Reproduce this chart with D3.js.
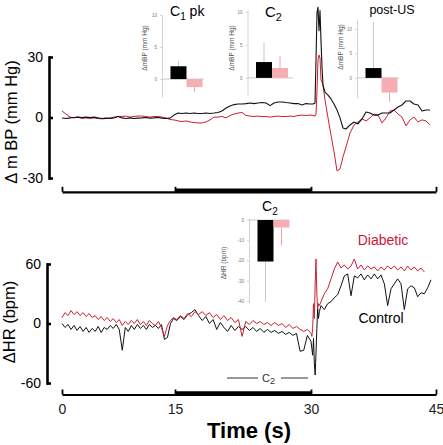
<!DOCTYPE html>
<html><head><meta charset="utf-8">
<script src="https://cdn.jsdelivr.net/npm/d3@7"></script>
<style>body{margin:0;background:#fff}svg{display:block}</style>
</head><body><svg id="c" width="443" height="445"></svg>
<script>
// ---------------- DATA ----------------
const xTicks = [0, 15, 30, 45];
const bpTicks = [30, 0, -30];
const hrTicks = [60, 0, -60];

// Blood pressure traces (time in s, change in mean BP mm Hg)
const bpTime = [0,0.53,1.06,1.59,2.12,2.65,3.19,3.72,4.25,4.78,5.31,5.84,6.37,6.90,7.43,7.96,8.50,9.03,9.56,10.09,10.62,11.15,11.68,12.21,12.74,13.27,13.81,14.34,14.87,
15.33,15.77,16.21,16.65,17.10,17.54,17.98,18.42,18.86,19.30,19.74,20.18,20.63,21.07,21.51,21.95,22.39,22.83,23.27,23.71,24.15,24.60,25.04,25.48,25.92,26.36,26.80,27.24,27.68,28.12,28.57,29.01,29.45,29.89,
30.24,30.48,30.60,30.72,30.84,30.96,31.08,31.20,31.32,31.44,31.68,32.04,32.40,32.76,33.12,33.48,33.84,34.20,34.68,35.16,35.64,36.12,36.60,37.08,37.56,38.04,38.52,39.00,39.48,39.96,40.44,40.92,41.40,41.88,42.36,42.84,43.32,43.80,44.28];
const bpControl = [-0.25,-0.5,-0.2,0,0.2,0,0.2,0,0.2,-0.2,-0.5,-0.3,-0.5,-0.2,0.5,-0.2,-0.5,-0.2,-0.5,-0.3,-0.2,0,-0.3,-0.2,0,-0.3,-0.5,-0.3,1.2,
2.2,2.0,2.2,2.0,2.2,2.0,2.0,2.2,2.0,2.2,2.5,3.2,4.7,5.7,6.4,6.7,6.7,6.9,7.2,6.9,7.2,7.4,7.2,5.9,7.2,7.7,7.7,7.4,7.2,6.9,6.9,6.2,6.9,6.7,
6.7,7.2,28.5,52,54.7,43,53,38,25,16,12.6,11.1,9.2,6.7,3.7,-0.2,-5.2,-5.7,-3.7,-2.2,-3.2,-0.7,2.7,2.2,1.2,1.2,2.2,2.2,2.2,3.7,5.2,6.2,8.2,8.2,6.7,6.2,3.2,3.7,3.7];
const bpDiabetic = [3.2,1.7,0.2,-0.2,0.2,-0.5,-0.2,-0.5,-0.2,-0.5,-0.7,-0.5,-0.2,0.2,0.5,0.5,0.7,0.2,0.5,0.7,0.7,0.5,0.2,0.5,0.5,0.2,-0.2,-1.0,-1.2,
-1.7,-2.0,-1.7,-2.2,-2.5,-2.7,-2.7,-2.2,-1.2,0.2,0.2,0.5,-0.2,1.0,1.7,2.2,2.5,1.0,0.7,0.5,0.7,0.5,0.5,0.2,0.5,0.7,0.5,0.5,0.7,0.5,1.0,1.2,1.0,1.2,
1.0,0.7,1.7,13.6,28.5,31,29.5,18.6,17.6,16,8.7,-0.2,-8.7,-17,-26.5,-25.5,-19.5,-14.6,-7.7,-3.7,-2.2,-0.7,-1.7,-0.2,1.7,1.2,-2.7,-0.2,3.2,3.7,1.7,0.2,-4.2,-1.2,0.2,-2.2,-1.2,-1.7,-3.7];

// Heart rate traces (time in s, change in HR bpm)
const hrTime = [0,0.4,0.8,1.2,1.6,2.0,2.4,2.8,3.2,3.6,4.0,4.4,4.8,5.2,5.6,6.0,6.4,6.8,7.2,7.6,8.0,8.4,8.8,9.2,9.6,10.0,10.4,10.8,11.2,11.6,12.0,12.4,12.8,13.2,13.6,14.0,14.4,14.8,
15.2,15.6,16.0,16.4,16.8,17.2,17.6,18.0,18.4,18.8,19.2,19.6,20.0,20.4,20.8,21.2,21.6,22.0,22.4,22.8,23.2,23.6,24.0,24.4,24.8,25.2,25.6,26.0,26.4,26.8,27.2,27.6,28.0,28.4,28.8,29.2,29.6,
30.0,30.1,30.2,30.3,30.4,30.5,30.6,30.7,30.8,30.9,31.0,31.2,31.6,32.0,32.4,32.8,33.2,33.6,34.0,34.4,34.8,35.2,35.6,36.0,36.4,36.8,37.2,37.6,38.0,38.4,38.8,39.2,39.6,40.0,40.4,40.8,41.2,41.6,42.0,42.4,42.8,43.2,43.6,44.0,44.4];
const hrControl = [0,-4,-1,-6,-2,-7,-3,-8,-4,-9,-5,-8,-3,-9,-4,-6,-2,-5,-1,-6,-27,-4,-8,-2,-6,-1,-5,-2,-6,-1,-4,-2,-5,-1,-16,-14,0,5,
3,7,4,9,11,14,8,3,7,0,4,-6,1,-4,-8,-2,-7,-3,-6,-3,-7,-4,-8,-5,-9,-6,-9,-7,-10,-8,-11,-9,-12,-10,-28,-27,-12,
-18,-25,-32,-15,-40,-52,-30,-5,15,5,12,18,14,20,22,26,29,38,48,50,28,48,46,50,44,49,45,50,45,49,40,18,35,40,45,40,14,35,38,36,27,31,30,36,44];
const hrDiabetic = [6,11,8,13,9,12,8,11,7,10,6,8,4,7,3,6,2,5,1,4,-2,2,-1,3,0,4,-1,2,-2,3,0,-2,2,-4,-13,-2,3,6,
4,8,5,10,7,12,9,12,8,11,6,9,4,8,3,6,1,4,-13,2,-1,3,0,2,-1,1,-2,1,-2,0,-4,-1,-5,-3,-6,-8,-6,
-10,-13,-5,20,5,40,65,30,15,20,18,22,30,35,45,55,62,56,59,55,58,65,55,59,54,58,55,57,53,57,54,58,55,58,54,57,53,58,54,57,53,56,52,null,null];

// Inset bar charts (mean and error-bar tip), groups
const insetGroups = ["Control", "Diabetic"];
const c1pkMean = [2.0, -1.25], c1pkErr = [2.8, -2.0];
const c2BpMean = [2.4, 1.5],  c2BpErr = [5.4, 3.3];
const postUsMean = [2.0, -3.0], postUsErr = [11.4, -4.9];
const c2HrMean = [-20.5, -3.7], c2HrErr = [-40.5, -12.5];
const insetBpTicks = [0, 5, 10];
const insetHrTicks = [0, -10, -20, -30, -40];

// ---------------- DRAW ----------------
const FONT = '"Liberation Sans", Arial, Helvetica, sans-serif';
const RED = "#cc1f33";
const svg = d3.select("#c").attr("font-family", FONT);

const x = d3.scaleLinear().domain(xTicks).range([62, 175, 311, 436]);
const yBP = d3.scaleLinear().domain([-30, 30]).range([178, 57]);
const yHR = d3.scaleLinear().domain([-60, 60]).range([383, 264]);

function yAxis(scale, ticks, xpos) {
  const g = svg.append("g").attr("transform", `translate(${xpos},0)`)
    .call(d3.axisLeft(scale).tickValues(ticks).tickSize(-4).tickSizeOuter(0).tickPadding(6).tickFormat(d => String(d)));
  g.attr("font-family", FONT).attr("font-size", 14);
  g.select(".domain").attr("stroke", "#000").attr("stroke-width", 2.6).attr("stroke-linecap", "square");
  g.selectAll(".tick line").attr("stroke", "#000").attr("stroke-width", 2.6);
  g.selectAll(".tick text").attr("fill", "#000");
}
function xAxis(ypos, withLabels) {
  const g = svg.append("g").attr("transform", `translate(0,${ypos})`)
    .call(d3.axisBottom(x).tickValues(xTicks).tickSize(-5).tickSizeOuter(0).tickPadding(10)
      .tickFormat(withLabels ? (d => String(d)) : () => ""));
  g.attr("font-family", FONT).attr("font-size", 14);
  g.select(".domain").attr("stroke", "#000").attr("stroke-width", 2.2);
  g.selectAll(".tick line").attr("stroke", "#000").attr("stroke-width", 1.8);
  g.selectAll(".tick text").attr("fill", "#222");
  g.append("line").attr("x1", x(15)).attr("x2", x(30)).attr("y1", -1).attr("y2", -1)
    .attr("stroke", "#000").attr("stroke-width", 4.4);
}

yAxis(yBP, bpTicks, 49);
yAxis(yHR, hrTicks, 47);
xAxis(191.8, false);
xAxis(394.5, true);

// axis titles
svg.append("text").attr("transform", "translate(17,122) rotate(-90)").attr("text-anchor", "middle")
  .attr("font-size", 16.5).text("Δ  m BP (mm Hg)");
svg.append("text").attr("transform", "translate(15,322) rotate(-90)").attr("text-anchor", "middle")
  .attr("font-size", 16.5).text("ΔHR (bpm)");
svg.append("text").attr("x", 249).attr("y", 438).attr("text-anchor", "middle")
  .attr("font-size", 22).attr("font-weight", "bold").text("Time (s)");

// traces
function trace(times, vals, yScale, color, w) {
  const data = times.map((t, i) => ({ t, v: vals[i] }));
  const line = d3.line().defined(d => d.v != null).x(d => x(d.t)).y(d => yScale(d.v));
  svg.append("path").datum(data).attr("d", line).attr("fill", "none")
    .attr("stroke", color).attr("stroke-width", w).attr("stroke-linejoin", "round");
}
trace(bpTime, bpDiabetic, yBP, RED, 1);
trace(bpTime, bpControl, yBP, "#111", 1.1);
trace(hrTime, hrControl, yHR, "#111", 1);
trace(hrTime, hrDiabetic, yHR, RED, 1);

// legend text
svg.append("text").attr("x", 383).attr("y", 245).attr("text-anchor", "middle").attr("font-size", 14)
  .attr("fill", "#d0143c").text("Diabetic");
svg.append("text").attr("x", 381).attr("y", 323).attr("text-anchor", "middle").attr("font-size", 14)
  .attr("fill", "#000").text("Control");

// C2 bracket in HR panel
svg.append("line").attr("x1", 227).attr("x2", 258).attr("y1", 378).attr("y2", 378).attr("stroke", "#333").attr("stroke-width", 1);
svg.append("line").attr("x1", 281).attr("x2", 308).attr("y1", 378).attr("y2", 378).attr("stroke", "#333").attr("stroke-width", 1);
const cb = svg.append("text").attr("x", 262).attr("y", 382).attr("font-size", 11).attr("fill", "#333");
cb.append("tspan").text("C");
cb.append("tspan").attr("font-size", 9).attr("dy", 2).text("2");

// insets
function title(xp, yp, main, sub, rest, size) {
  const t = svg.append("text").attr("x", xp).attr("y", yp).attr("font-size", size).attr("fill", "#000");
  t.append("tspan").text(main);
  if (sub) t.append("tspan").attr("font-size", size * 0.72).attr("dy", 4).text(sub);
  if (rest) t.append("tspan").attr("dy", -4).text(rest);
}
function inset(o) {
  const ys = d3.scaleLinear().domain(o.dom).range(o.rng);
  const xb = d3.scaleBand().domain(insetGroups).range([o.axisX + 8.5, o.axisX + 8.5 + 32]).paddingInner(0);
  const g = svg.append("g").attr("transform", `translate(${o.axisX},0)`)
    .call(d3.axisLeft(ys).tickValues(o.ticks).tickSize(2).tickSizeOuter(0).tickPadding(3).tickFormat(d => String(d)));
  g.attr("font-family", FONT).attr("font-size", 4.5);
  g.select(".domain").attr("stroke", "#cfcfcf").attr("stroke-width", 0.9);
  g.selectAll(".tick line").attr("stroke", "#bbb").attr("stroke-width", 0.6);
  g.selectAll(".tick text").attr("fill", "#777");
  svg.append("line").attr("x1", o.axisX).attr("x2", o.zeroEnd).attr("y1", ys(0)).attr("y2", ys(0))
    .attr("stroke", "#c4c4c4").attr("stroke-width", 0.9);
  const cols = ["#000", "#f7adb4"], ecols = ["#c9c9c9", "#f4a3ab"];
  insetGroups.forEach((gname, i) => {
    const cx = xb(gname) + xb.bandwidth() / 2;
    svg.append("line").attr("x1", cx).attr("x2", cx).attr("y1", ys(o.mean[i])).attr("y2", ys(o.err[i]))
      .attr("stroke", ecols[i]).attr("stroke-width", 1);
    svg.append("rect").attr("x", xb(gname)).attr("width", xb.bandwidth())
      .attr("y", Math.min(ys(0), ys(o.mean[i]))).attr("height", Math.abs(ys(o.mean[i]) - ys(0)))
      .attr("fill", cols[i]);
  });
  svg.append("text").attr("transform", `translate(${o.labelX},${o.labelY}) rotate(-90)`)
    .attr("text-anchor", "middle").attr("font-size", 6.5).attr("fill", "#555").text(o.label);
}

inset({ axisX: 162, dom: [-2.8, 10], rng: [97, 15], ticks: insetBpTicks, mean: c1pkMean, err: c1pkErr,
  zeroEnd: 204, labelX: 147, labelY: 48, label: "ΔmBP (mm Hg)" });
inset({ axisX: 247.5, dom: [-2.6, 10.3], rng: [95, 10], ticks: insetBpTicks, mean: c2BpMean, err: c2BpErr,
  zeroEnd: 293, labelX: 234, labelY: 48, label: "ΔmBP (mm Hg)" });
inset({ axisX: 357, dom: [-4.1, 12], rng: [98, 19], ticks: insetBpTicks, mean: postUsMean, err: postUsErr,
  zeroEnd: 399, labelX: 343, labelY: 47, label: "ΔmBP (mm Hg)" });
inset({ axisX: 249, dom: [-41, 1], rng: [303, 218], ticks: insetHrTicks, mean: c2HrMean, err: c2HrErr,
  zeroEnd: 289, labelX: 226, labelY: 263, label: "ΔHR (bpm)" });

title(170, 16, "C", "1", " pk", 14);
title(265, 17, "C", "2", null, 15);
svg.append("text").attr("x", 392).attr("y", 14).attr("text-anchor", "middle").attr("font-size", 12.5).text("post-US");
title(262, 211, "C", "2", null, 14);
</script></body></html>
